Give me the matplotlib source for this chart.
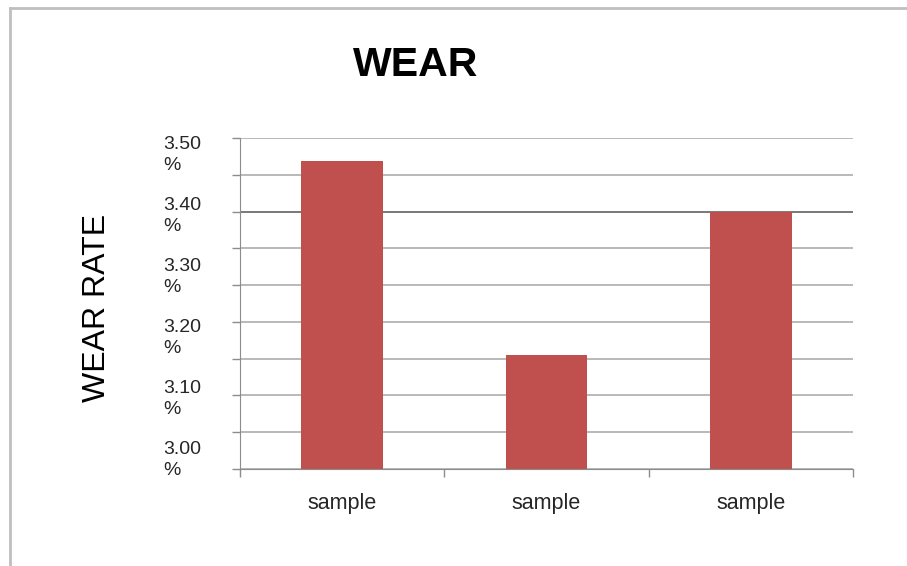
import numpy as np
import matplotlib.pyplot as plt
from matplotlib.lines import Line2D

plt.rcParams['font.family'] = ['Liberation Sans', 'DejaVu Sans']

# wear rate per sample (%)
samples = ["sample", "sample", "sample"]
wear_rate = [3.484, 3.165, 3.40]
label_vals = [3.00, 3.10, 3.20, 3.30, 3.40, 3.50]

y_lo, y_hi = 2.978, 3.522
grid_vals = np.linspace(y_lo, y_hi, 10)

fig = plt.figure(figsize=(9.07, 5.66), dpi=100)
ax = fig.add_axes([240 / 907, 1 - 469 / 566, 613 / 907, 331 / 566])

x = np.arange(len(samples))
ax.bar(x, wear_rate, width=0.4, color="#C0504D", zorder=3)

ax.set_xlim(-0.5, len(samples) - 0.5)
ax.set_ylim(y_lo, y_hi)

# gridlines with small tick marks on the value axis
ax.set_yticks(grid_vals)
ax.set_yticklabels([])
ax.tick_params(axis="y", which="major", length=6, color="#8C8C8C", width=1)
for g in grid_vals:
    c = "#555555" if abs(g - 3.40) < 0.005 else "#A6A6A6"
    ax.axhline(g, color=c, lw=1.1, zorder=1)

# value labels in two lines
ax.set_yticks(label_vals, minor=True)
ax.set_yticklabels([f"{v:.2f}\n%" for v in label_vals], minor=True)
ax.tick_params(axis="y", which="minor", length=0, pad=28, labelsize=14,
               labelcolor="#262626")
for lab in ax.get_yticklabels(minor=True):
    lab.set_multialignment("left")
    lab.set_linespacing(1.3)

# category axis
ax.set_xticks(np.arange(-0.5, len(samples), 1.0))
ax.set_xticklabels([])
ax.tick_params(axis="x", which="major", length=6, color="#8C8C8C", width=1)
ax.set_xticks(x, minor=True)
ax.set_xticklabels(samples, minor=True)
ax.tick_params(axis="x", which="minor", length=0, pad=17, labelsize=15.5,
               labelcolor="#262626")

for side in ["top", "right"]:
    ax.spines[side].set_visible(False)
ax.spines["left"].set_color("#8C8C8C")
ax.spines["bottom"].set_color("#8C8C8C")
ax.spines["left"].set_zorder(4)
ax.spines["bottom"].set_zorder(4)

fig.text(416 / 907, 1 - 65 / 566, "WEAR", ha="center", va="center",
         fontsize=29.5, fontweight="bold")
fig.text(97 / 907, 1 - 308 / 566, "WEAR RATE", ha="center", va="center",
         rotation=90, fontsize=23)

# chart area border
fig.add_artist(Line2D([10 / 907, 1], [1 - 8 / 566] * 2, color="#BFBFBF", lw=2))
fig.add_artist(Line2D([10 / 907] * 2, [0, 1 - 8 / 566], color="#BFBFBF", lw=2))

fig.savefig("out.png", dpi=100)
